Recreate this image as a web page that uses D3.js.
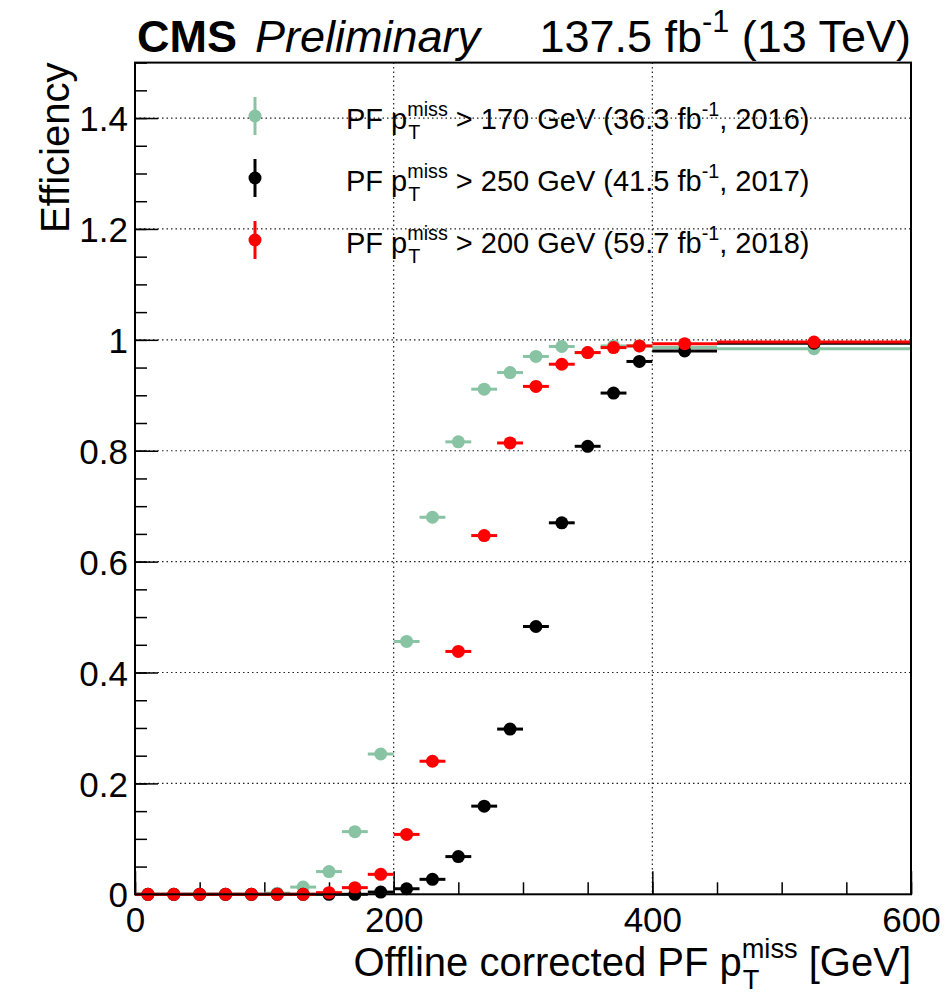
<!DOCTYPE html>
<html>
<head>
<meta charset="utf-8">
<script src="https://cdn.jsdelivr.net/npm/d3@7"></script>
<style>
  body { margin: 0; background: #fff; }
  svg { font-family: "Liberation Sans", Arial, Helvetica, sans-serif; }
</style>
</head>
<body>
<div id="chart"></div>
<script>
// bin edges of the offline pT(miss) histogram (GeV)
const binEdges = [0, 20, 40, 60, 80, 100, 120, 140, 160, 180, 200, 220, 240, 260, 280, 300, 320, 340, 360, 380, 400, 450, 600];

// efficiency per bin
const eff2016 = [0, 0, 0, 0, 0, 0.002, 0.013, 0.041, 0.113, 0.253, 0.456, 0.680, 0.816, 0.911, 0.941, 0.970, 0.988, 0.977, 0.989, 0.989, 0.986, 0.984];
const eff2017 = [0, 0, 0, 0, 0, 0, 0, 0, 0, 0.004, 0.010, 0.027, 0.068, 0.159, 0.298, 0.483, 0.670, 0.808, 0.904, 0.961, 0.980, 0.994];
const eff2018 = [0, 0, 0, 0, 0, 0, 0, 0.003, 0.012, 0.036, 0.108, 0.240, 0.438, 0.647, 0.814, 0.916, 0.956, 0.977, 0.986, 0.989, 0.993, 0.996];

const xTicks = [0, 200, 400, 600];
const yTicks = [0, 0.2, 0.4, 0.6, 0.8, 1, 1.2, 1.4];

const series = [
  {name: '2016', values: eff2016, color: '#88c4a4', cut: '170', lumi: '36.3'},
  {name: '2017', values: eff2017, color: '#000000', cut: '250', lumi: '41.5'},
  {name: '2018', values: eff2018, color: '#ff0000', cut: '200', lumi: '59.7'}
];

const W = 949, H = 994;
const frame = {left: 135, right: 911, top: 62.6, bottom: 894.3};

const svg = d3.select('#chart').append('svg')
  .attr('width', W).attr('height', H);

const x = d3.scaleLinear().domain([0, 600]).range([frame.left, frame.right]);
const y = d3.scaleLinear().domain([0, 1.5]).range([frame.bottom, frame.top]);

// draws text with sub/superscripts, returns total width
function richText(g, px, py, parts, size, anchor) {
  const grp = g.append('g');
  let cx = 0;
  parts.forEach(function (p) {
    if (p.t !== undefined) {
      const t = grp.append('text').attr('x', cx).attr('y', 0)
        .attr('font-size', size).style('white-space', 'pre').text(p.t);
      cx += t.node().getComputedTextLength();
    } else {
      let w = 0;
      if (p.sup) {
        const s = grp.append('text').attr('x', cx).attr('y', -size * 0.45)
          .attr('font-size', size * 0.68).text(p.sup);
        w = Math.max(w, s.node().getComputedTextLength());
      }
      if (p.sub) {
        const s = grp.append('text').attr('x', cx + 1).attr('y', size * 0.33)
          .attr('font-size', size * 0.68).text(p.sub);
        w = Math.max(w, s.node().getComputedTextLength() + 1);
      }
      cx += w;
    }
  });
  let ox = px;
  if (anchor === 'end') ox = px - cx;
  grp.attr('transform', 'translate(' + ox + ',' + py + ')');
  return cx;
}

// grid
const grid = svg.append('g').attr('stroke', '#222').attr('stroke-width', 1.2)
  .attr('stroke-dasharray', '1.5,3');
grid.selectAll('.gx').data(xTicks.filter(d => d > 0 && d < 600)).enter()
  .append('line')
  .attr('x1', d => x(d)).attr('x2', d => x(d))
  .attr('y1', frame.top).attr('y2', frame.bottom);
grid.selectAll('.gy').data(yTicks.filter(d => d > 0)).enter()
  .append('line')
  .attr('y1', d => y(d)).attr('y2', d => y(d))
  .attr('x1', frame.left).attr('x2', frame.right);

// axes
const fmt = d => String(+d.toFixed(1));

const xMinor = svg.append('g')
  .attr('transform', 'translate(0,' + frame.bottom + ')')
  .call(d3.axisBottom(x).tickValues(d3.range(0, 601, 50)).tickSize(-12).tickFormat(''));
const xMajor = svg.append('g')
  .attr('transform', 'translate(0,' + frame.bottom + ')')
  .call(d3.axisBottom(x).tickValues(xTicks).tickSize(-23).tickPadding(10).tickFormat(fmt));
const yMinor = svg.append('g')
  .attr('transform', 'translate(' + frame.left + ',0)')
  .call(d3.axisLeft(y).tickValues(d3.range(0, 31).map(i => i * 0.05)).tickSize(-12).tickFormat(''));
const yMajor = svg.append('g')
  .attr('transform', 'translate(' + frame.left + ',0)')
  .call(d3.axisLeft(y).tickValues(yTicks).tickSize(-23).tickPadding(7).tickFormat(fmt));

[xMinor, xMajor, yMinor, yMajor].forEach(function (a) {
  a.select('.domain').remove();
  a.selectAll('line').attr('stroke', '#000').attr('stroke-width', 1.5);
  a.selectAll('text').attr('font-size', 35).attr('fill', '#000')
    .attr('font-family', '"Liberation Sans", Arial, sans-serif');
});
xMajor.selectAll('text').attr('dy', null).attr('y', 38);
yMajor.selectAll('text').attr('dy', '0.36em');

// data points
const plot = svg.append('g');
series.forEach(function (s) {
  const g = plot.append('g');
  const pts = s.values.map((v, i) => ({lo: binEdges[i], hi: binEdges[i + 1], v: v}));
  g.selectAll('line').data(pts).enter().append('line')
    .attr('x1', d => x(d.lo)).attr('x2', d => x(d.hi))
    .attr('y1', d => y(d.v)).attr('y2', d => y(d.v))
    .attr('stroke', s.color).attr('stroke-width', 3);
  g.selectAll('circle').data(pts).enter().append('circle')
    .attr('cx', d => x((d.lo + d.hi) / 2)).attr('cy', d => y(d.v))
    .attr('r', 6.5).attr('fill', s.color);
});

// frame
svg.append('rect')
  .attr('x', frame.left).attr('y', frame.top)
  .attr('width', frame.right - frame.left).attr('height', frame.bottom - frame.top)
  .attr('fill', 'none').attr('stroke', '#000').attr('stroke-width', 2);

// legend
const legend = svg.append('g');
series.forEach(function (s, i) {
  const ly = 116 + i * 62;
  legend.append('line').attr('x1', 255).attr('x2', 255)
    .attr('y1', ly - 19).attr('y2', ly + 19)
    .attr('stroke', s.color).attr('stroke-width', 3);
  legend.append('circle').attr('cx', 255).attr('cy', ly).attr('r', 6.5).attr('fill', s.color);
  richText(legend, 346, ly + 13, [
    {t: 'PF p'}, {sub: 'T', sup: 'miss'},
    {t: ' > ' + s.cut + ' GeV (' + s.lumi + ' fb'}, {sup: '-1'},
    {t: ', ' + s.name + ')'}
  ], 29);
});

// titles
svg.append('text').attr('x', 137).attr('y', 52)
  .attr('font-size', 45).attr('font-weight', 'bold').text('CMS');
svg.append('text').attr('x', 255).attr('y', 52)
  .attr('font-size', 45).attr('font-style', 'italic').text('Preliminary');
richText(svg, 911, 52, [{t: '137.5 fb'}, {sup: '-1'}, {t: ' (13 TeV)'}], 45, 'end');

richText(svg, 911, 976, [
  {t: 'Offline corrected PF p'}, {sub: 'T', sup: 'miss'}, {t: ' [GeV]'}
], 40, 'end');

svg.append('text')
  .attr('transform', 'translate(69,' + frame.top + ') rotate(-90)')
  .attr('text-anchor', 'end')
  .attr('font-size', 40).text('Efficiency');
</script>
</body>
</html>
